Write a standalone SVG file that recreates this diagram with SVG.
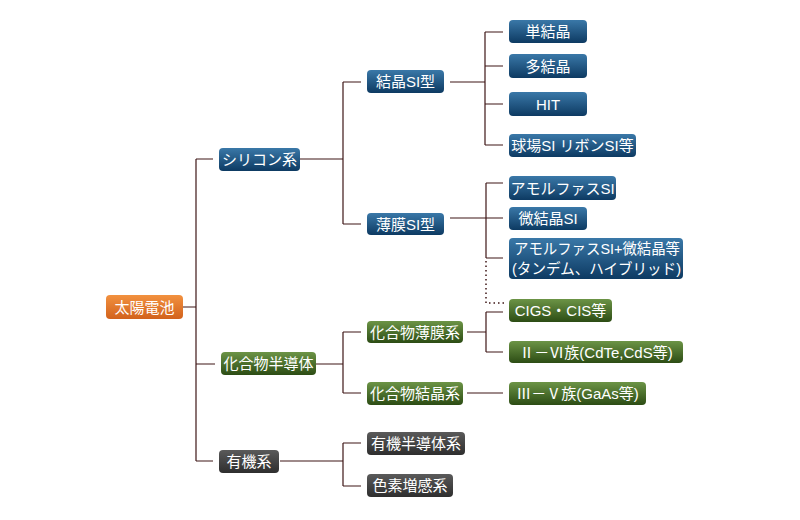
<svg xmlns="http://www.w3.org/2000/svg" width="800" height="520" viewBox="0 0 800 520">
<defs>
<linearGradient id="gBlue" x1="0" y1="0" x2="0" y2="1"><stop offset="0" stop-color="#3a78a8"/><stop offset="1" stop-color="#0d3a62"/></linearGradient>
<linearGradient id="gGreen" x1="0" y1="0" x2="0" y2="1"><stop offset="0" stop-color="#6c9446"/><stop offset="1" stop-color="#2c4c14"/></linearGradient>
<linearGradient id="gGray" x1="0" y1="0" x2="0" y2="1"><stop offset="0" stop-color="#5a5a5a"/><stop offset="1" stop-color="#2e2e2e"/></linearGradient>
<linearGradient id="gOrange" x1="0" y1="0" x2="0" y2="1"><stop offset="0" stop-color="#f2913f"/><stop offset="1" stop-color="#d2621c"/></linearGradient>
</defs>
<style>
rect{rx:4px;ry:4px}
.b{fill:url(#gBlue)}
.g{fill:url(#gGreen)}
.k{fill:url(#gGray)}
.o{fill:url(#gOrange)}
text{font-family:"Liberation Sans","Noto Sans CJK JP",sans-serif;font-size:15px;fill:#ffffff;text-anchor:middle;dominant-baseline:central}
.l{text-anchor:start}
.c{fill:none;stroke:#3e1616;stroke-width:1.2}
.d{fill:none;stroke:#3e1616;stroke-width:1.5;stroke-dasharray:1.5 3}
</style>
<rect width="800" height="520" fill="#ffffff" style="rx:0"/>
<g id="connectors">
<path class="c" d="M183 307H196M196 159V461M196 159H213M196 364H215M196 461H213"/>
<path class="c" d="M300 159H343M343 82V224M343 82H361M343 224H361"/>
<path class="c" d="M450 82H485M485 32V145M485 32H503M485 66H503M485 104H503M485 145H503"/>
<path class="c" d="M450 218H503M486 183V258M486 183H503M486 258H503"/>
<path class="d" d="M486 261V303H505"/>
<path class="c" d="M316 364H343M343 332V393M343 332H361M343 393H361"/>
<path class="c" d="M467 332H486M486 312V352M486 312H503M486 352H503M467 393H503"/>
<path class="c" d="M280 461H343M343 443V486M343 443H361M343 486H361"/>
</g>
<g id="n-taiyo"><rect class="o" x="106" y="295" width="77" height="24"/><text x="144.5" y="307">太陽電池</text></g>
<g id="n-silicon"><rect class="b" x="219" y="148" width="81" height="23"/><text x="259.5" y="159.5">シリコン系</text></g>
<g id="n-kessho"><rect class="b" x="367" y="70" width="77" height="23"/><text x="405.5" y="81.5">結晶SI型</text></g>
<g id="n-tankessho"><rect class="b" x="509" y="20" width="78" height="23"/><text x="548" y="31.5">単結晶</text></g>
<g id="n-takessho"><rect class="b" x="509" y="54" width="78" height="24"/><text x="548" y="66">多結晶</text></g>
<g id="n-hit"><rect class="b" x="509" y="92" width="78" height="24"/><text x="548" y="104">HIT</text></g>
<g id="n-kyujo"><rect class="b" x="509" y="134" width="127" height="23"/><text x="572.5" y="145.5">球場SI リボンSI等</text></g>
<g id="n-hakumaku"><rect class="b" x="367" y="213" width="77" height="22"/><text x="405.5" y="224">薄膜SI型</text></g>
<g id="n-amorphous"><rect class="b" x="509" y="176" width="107" height="24"/><text x="562.5" y="188">アモルファスSI</text></g>
<g id="n-bikessho"><rect class="b" x="509" y="207" width="78" height="23"/><text x="548" y="218.5">微結晶SI</text></g>
<g id="n-tandem"><rect class="b" x="509" y="238" width="174" height="41"/><text class="l" x="514" y="248.5" textLength="166" lengthAdjust="spacingAndGlyphs">アモルファスSI+微結晶等</text><text class="l" x="512" y="268.5" textLength="169" lengthAdjust="spacingAndGlyphs">(タンデム、ハイブリッド)</text></g>
<g id="n-kagobutsu"><rect class="g" x="221" y="352" width="95" height="23"/><text x="268.5" y="363.5">化合物半導体</text></g>
<g id="n-kago-hakumaku"><rect class="g" x="367" y="321" width="96" height="22"/><text x="415" y="332">化合物薄膜系</text></g>
<g id="n-cigs"><rect class="g" x="509" y="299" width="103" height="23"/><text x="560.5" y="310.5">CIGS・CIS等</text></g>
<g id="n-2-6"><rect class="g" x="509" y="341" width="174" height="22"/><text x="596" y="352">Ⅱ－Ⅵ族(CdTe,CdS等)</text></g>
<g id="n-kago-kessho"><rect class="g" x="367" y="382" width="96" height="23"/><text x="415" y="393.5">化合物結晶系</text></g>
<g id="n-3-5"><rect class="g" x="509" y="382" width="137" height="23"/><text x="577.5" y="393.5">Ⅲ－Ⅴ族(GaAs等)</text></g>
<g id="n-yuki"><rect class="k" x="219" y="450" width="60" height="23"/><text x="249" y="461.5">有機系</text></g>
<g id="n-yuki-handotai"><rect class="k" x="367" y="432" width="98" height="23"/><text x="416" y="443.5">有機半導体系</text></g>
<g id="n-shikiso"><rect class="k" x="367" y="474" width="86" height="23"/><text x="410" y="485.5">色素増感系</text></g>
</svg>
